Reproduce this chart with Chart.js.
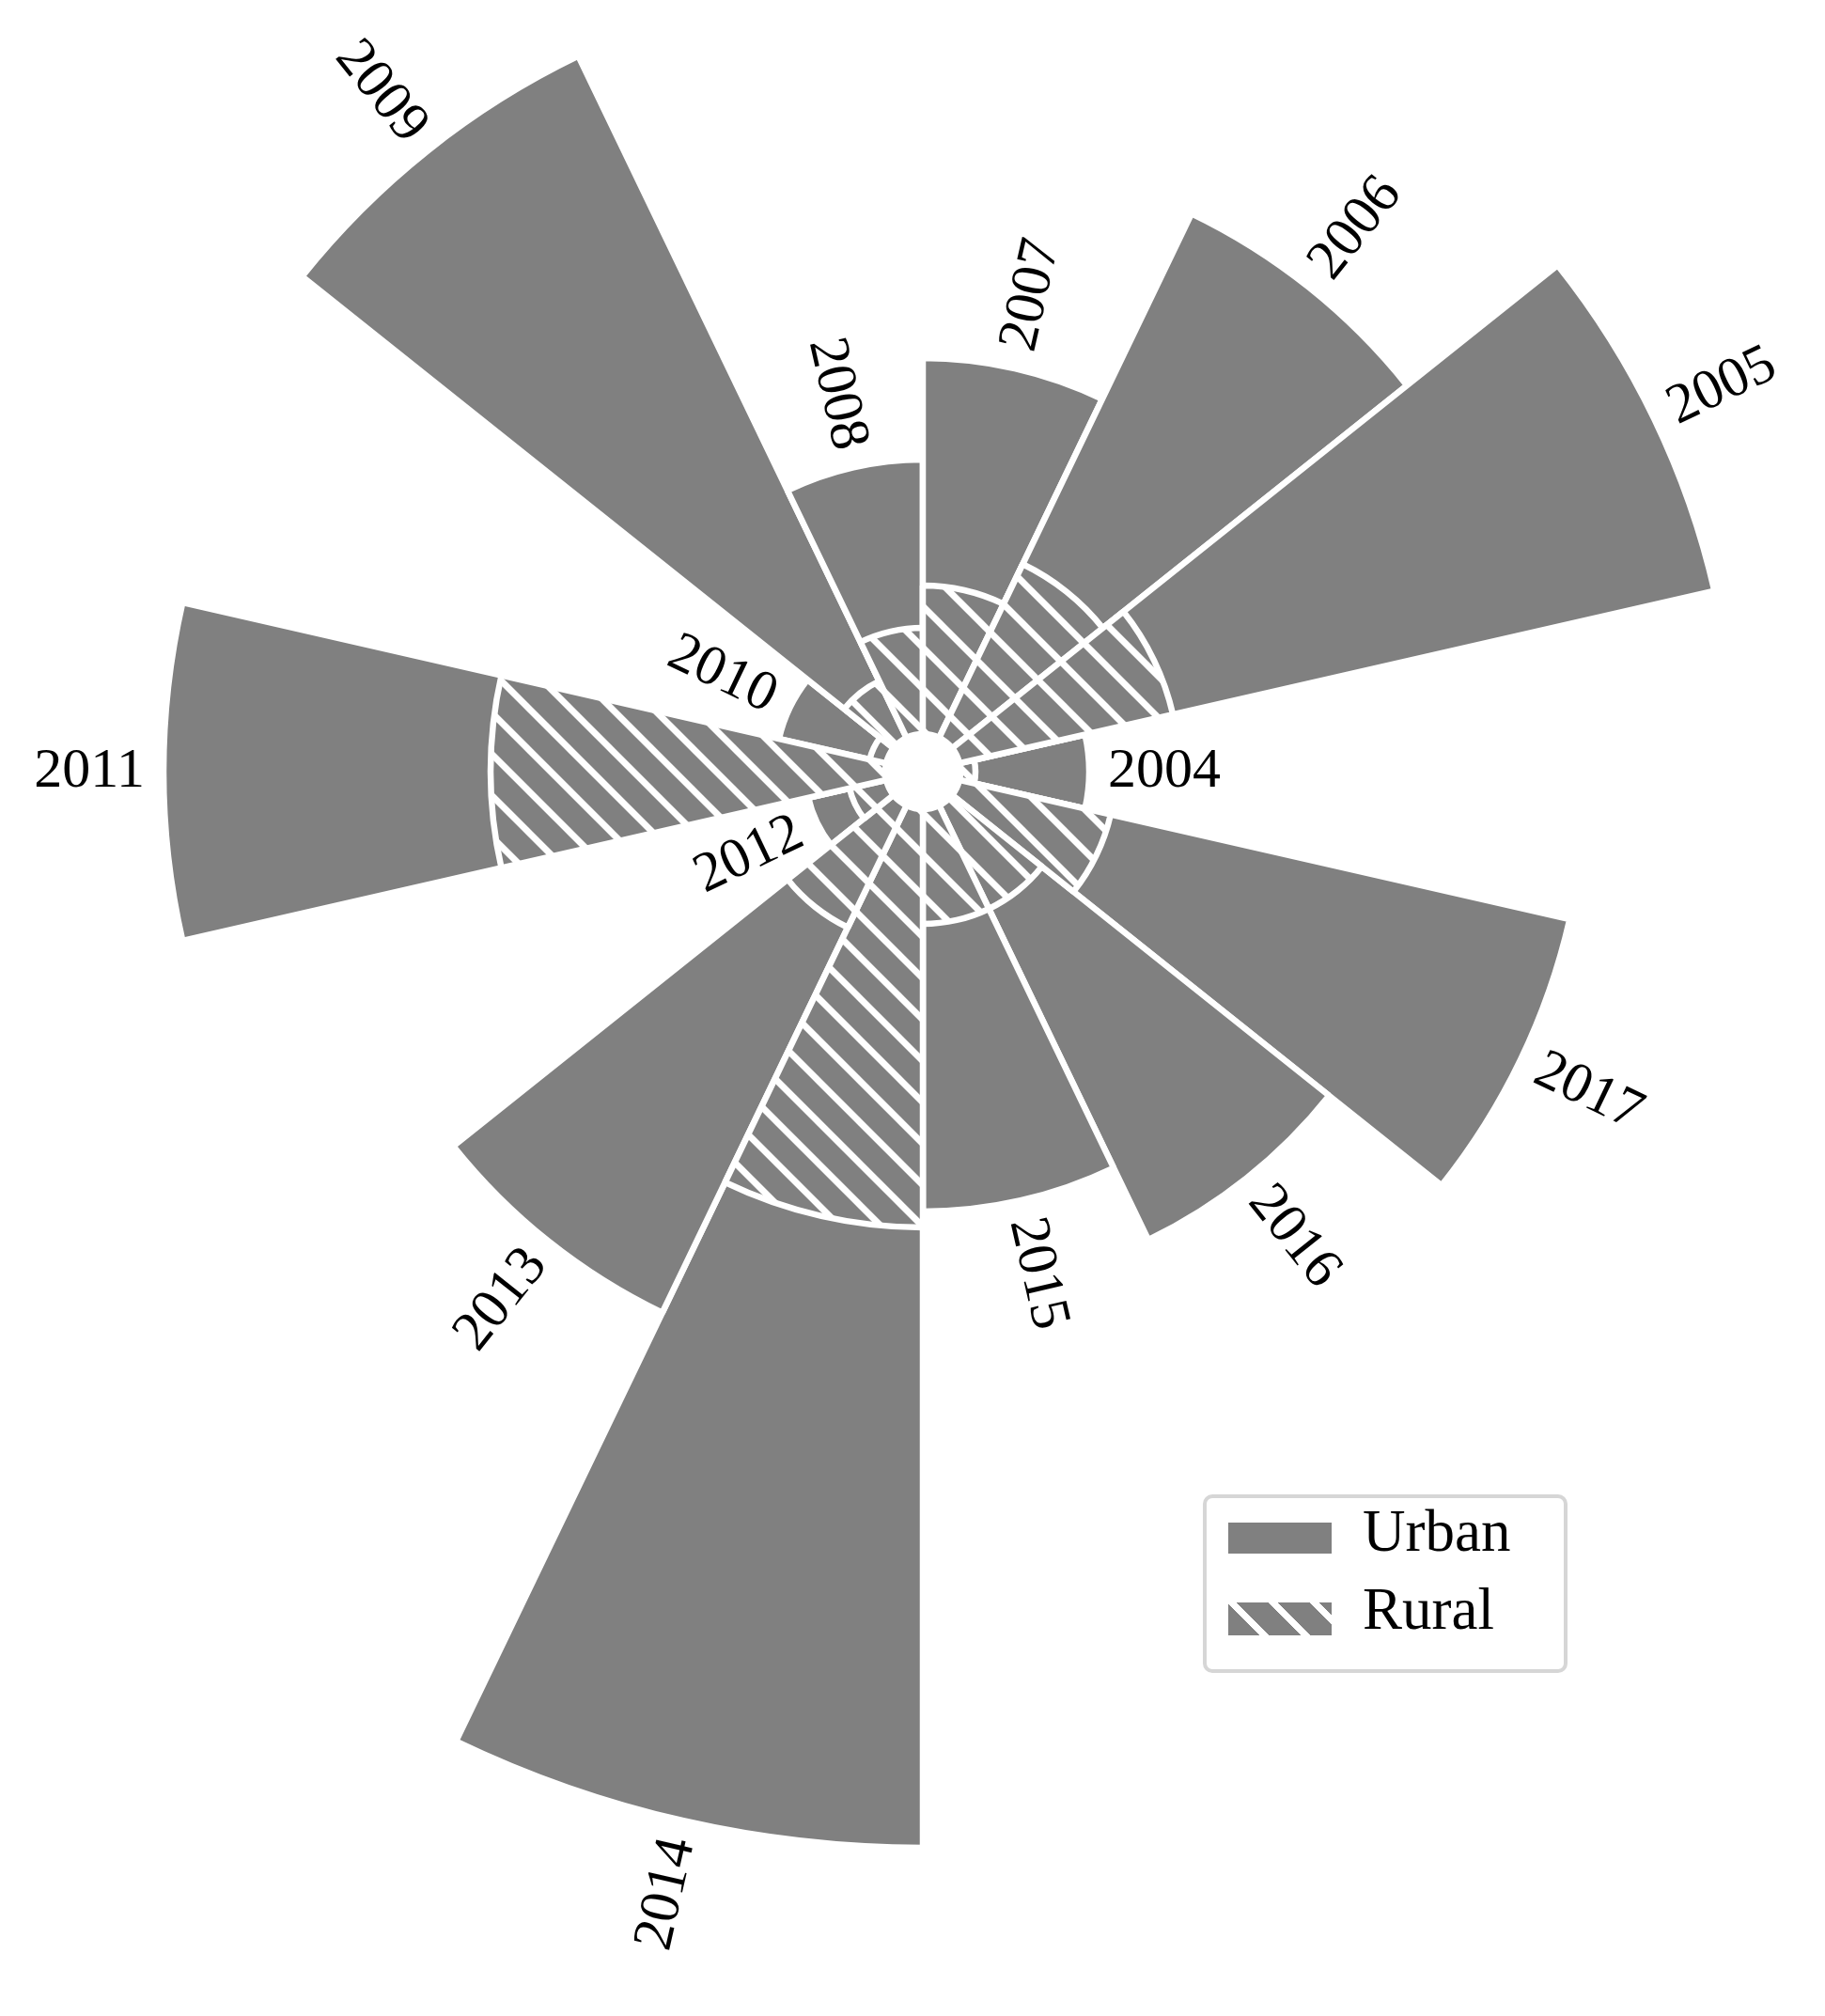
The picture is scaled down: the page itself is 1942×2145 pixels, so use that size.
<!DOCTYPE html>
<html>
<head>
<meta charset="utf-8">
<script src="https://cdn.jsdelivr.net/npm/chart.js@4.4.1/dist/chart.umd.min.js"></script>
<style>
  html, body { margin: 0; padding: 0; background: #fff; overflow: hidden; }
  body { width: 1942px; height: 2145px; position: relative; }
  #wrap { position: absolute; left: -318px; top: -479px; width: 2600px; height: 2600px; }
  .legend { position: absolute; left: 1280px; top: 1590px; width: 388px; height: 190px;
    box-sizing: border-box; border: 4px solid #d6d6d6; border-radius: 10px; background: #fff;
    font-family: "Liberation Serif", serif; font-size: 63px; line-height: 63px; color: #000; }
  .legend .sw { position: absolute; left: 23px; width: 110px; }
  .legend .txt { position: absolute; left: 166px; }
</style>
</head>
<body>
<div id="wrap"><canvas id="c" width="2600" height="2600"></canvas></div>
<div class="legend">
  <div class="sw" style="top:26px;height:33px;background:#808080"></div>
  <div class="txt" style="top:4px">Urban</div>
  <div class="sw" style="top:111px;height:35px;background:repeating-linear-gradient(45deg,#808080 0 24px,#fff 24px 31px)"></div>
  <div class="txt" style="top:87px">Rural</div>
</div>
<script>
// values (radial length units, 1 unit = 10px)
const years = ['2004', '2005', '2006', '2007', '2008', '2009', '2010', '2011', '2012', '2013', '2014', '2015', '2016', '2017'];
const rural = [1.6, 23.3, 20.5, 15.8, 11.3, 6.7, 1.8, 42.0, 4.0, 14.4, 44.5, 12.2, 12.2, 16.5];
const urban = [12.1, 59.1, 41.4, 24.2, 17.9, 73.8, 9.9, 34.8, 4.5, 45.5, 66.0, 30.6, 39.1, 50.1];

const HOLE = 4;      // empty centre, in value units
const R_MAX = 126;
const LABEL_PAD = 20;
const GAP = 6.5;

// Chart.js goes clockwise, the picture goes counter-clockwise from 3 o'clock
const N = years.length;
const order = years.map((_, i) => (N - i) % N);
const pick = arr => order.map(i => arr[i]);
const totals = urban.map((u, i) => u + rural[i]);

const canvas = document.getElementById('c');
const ctx0 = canvas.getContext('2d');

function makeHatch() {
  const s = 44;
  const t = document.createElement('canvas');
  t.width = s; t.height = s;
  const g = t.getContext('2d');
  g.fillStyle = '#808080';
  g.fillRect(0, 0, s, s);
  g.strokeStyle = '#fff';
  g.lineWidth = 7;
  g.beginPath();
  for (let k = -1; k <= 1; k++) {
    g.moveTo(-s, -s + k * s);
    g.lineTo(2 * s, 2 * s + k * s);
  }
  g.stroke();
  return ctx0.createPattern(t, 'repeat');
}
const hatch = makeHatch();

const yearLabels = {
  id: 'yearLabels',
  afterDatasetsDraw(chart) {
    const meta = chart.getDatasetMeta(2);
    const labels = chart.data.labels;
    const ctx = chart.ctx;
    ctx.save();
    ctx.font = '60px "Liberation Serif"';
    ctx.fillStyle = '#000';
    ctx.textBaseline = 'middle';
    meta.data.forEach((arc, j) => {
      const p = arc.getProps(['x', 'y', 'startAngle', 'endAngle', 'outerRadius'], true);
      const mid = (p.startAngle + p.endAngle) / 2;
      const r = p.outerRadius + LABEL_PAD;
      const left = Math.cos(mid) < -1e-6;
      ctx.save();
      ctx.translate(p.x + Math.cos(mid) * r, p.y + Math.sin(mid) * r);
      ctx.rotate(left ? mid + Math.PI : mid);
      ctx.textAlign = left ? 'right' : 'left';
      ctx.fillText(labels[j], 0, 0);
      ctx.restore();
    });
    ctx.restore();
  }
};

new Chart(canvas, {
  type: 'polarArea',
  data: {
    labels: pick(years),
    datasets: [
      { label: 'hole', data: years.map(() => 0), backgroundColor: '#fff', borderColor: '#fff', borderWidth: GAP },
      { label: 'Rural', data: pick(rural), backgroundColor: hatch, borderColor: '#fff', borderWidth: GAP },
      { label: 'Urban', data: pick(totals), backgroundColor: '#808080', borderColor: '#fff', borderWidth: GAP }
    ]
  },
  options: {
    responsive: false,
    animation: false,
    startAngle: 90 - 180 / N,
    layout: { padding: 0 },
    scales: {
      r: {
        min: -HOLE,
        max: R_MAX,
        startAngle: 90 - 180 / N,
        ticks: { display: false },
        grid: { display: false },
        angleLines: { display: false },
        pointLabels: { display: false }
      }
    },
    plugins: {
      legend: { display: false },
      tooltip: { enabled: false }
    }
  },
  plugins: [yearLabels]
});
</script>
</body>
</html>
